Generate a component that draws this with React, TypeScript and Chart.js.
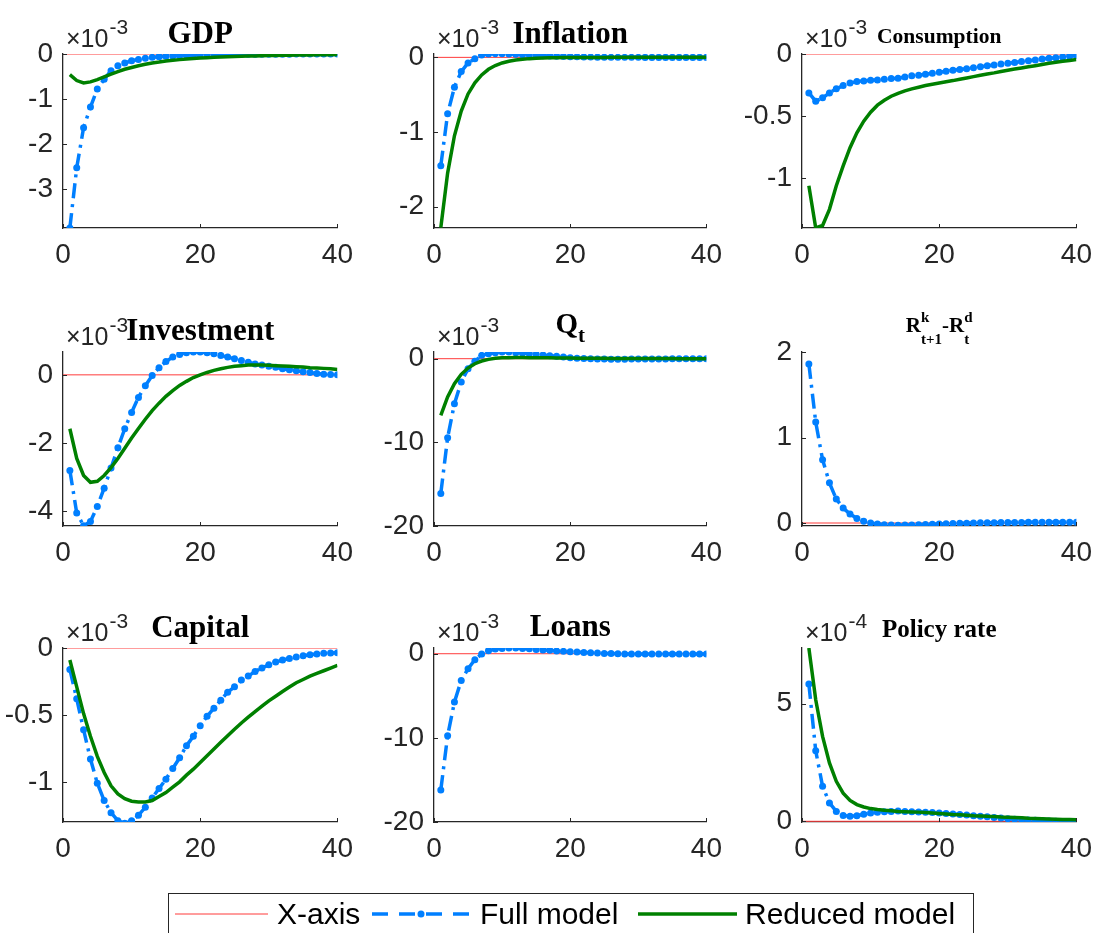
import React, { useEffect, useRef } from "react";
import { Chart, registerables } from "chart.js";

Chart.register(...registerables);

// ---------------- data ----------------
const PERIODS = [1, 2, 3, 4, 5, 6, 7, 8, 9, 10, 11, 12, 13, 14, 15, 16, 17, 18, 19, 20, 21, 22, 23, 24, 25, 26, 27, 28, 29, 30, 31, 32, 33, 34, 35, 36, 37, 38, 39, 40];
const X_TICKS = [0, 20, 40];
const ZERO_LINE_X = [0, 40];
const ZERO_LINE_Y = [0, 0];

// values in units of the axis multiplier (x10^-3 or x10^-4)
const GDP_FULL = [-3.87, -2.53, -1.64, -1.18, -0.78, -0.56, -0.37, -0.26, -0.2, -0.15, -0.12, -0.096, -0.074, -0.06, -0.052, -0.044, -0.037, -0.03, -0.025, -0.021, -0.018, -0.015, -0.013, -0.011, -0.009, -0.008, -0.007, -0.006, -0.005, -0.004, -0.004, -0.003, -0.003, -0.002, -0.002, -0.002, -0.001, -0.001, -0.001, -0.001];
const GDP_REDUCED = [-0.46, -0.59, -0.645, -0.62, -0.57, -0.51, -0.45, -0.39, -0.34, -0.3, -0.26, -0.23, -0.2, -0.18, -0.155, -0.14, -0.125, -0.11, -0.1, -0.09, -0.082, -0.074, -0.067, -0.06, -0.055, -0.05, -0.046, -0.042, -0.038, -0.035, -0.032, -0.029, -0.026, -0.024, -0.022, -0.02, -0.018, -0.016, -0.014, -0.013];

const INFL_FULL = [-1.45, -0.755, -0.4, -0.19, -0.075, -0.02, 0.03, 0.045, 0.05, 0.048, 0.044, 0.04, 0.035, 0.03, 0.025, 0.021, 0.017, 0.014, 0.011, 0.009, 0.007, 0.005, 0.004, 0.003, 0.002, 0.001, 0.001, 0, 0, 0, -0.001, -0.001, -0.001, -0.001, -0.001, -0.001, -0.001, -0.001, -0.001, -0.001];
const INFL_REDUCED = [-2.28, -1.55, -1.05, -0.72, -0.49, -0.34, -0.235, -0.16, -0.11, -0.075, -0.052, -0.036, -0.025, -0.017, -0.012, -0.008, -0.006, -0.004, -0.003, -0.002, -0.002, -0.001, -0.001, -0.001, -0.001, 0, 0, 0, 0, 0, 0, 0, 0, 0, 0, 0, 0, 0, 0, 0];

const CONS_FULL = [-0.313, -0.38, -0.353, -0.313, -0.28, -0.254, -0.233, -0.222, -0.217, -0.211, -0.209, -0.203, -0.198, -0.195, -0.185, -0.176, -0.171, -0.163, -0.155, -0.147, -0.139, -0.131, -0.125, -0.118, -0.11, -0.102, -0.095, -0.088, -0.081, -0.075, -0.068, -0.061, -0.054, -0.048, -0.041, -0.035, -0.03, -0.024, -0.018, -0.013];
const CONS_REDUCED = [-1.06, -1.4, -1.38, -1.25, -1.06, -0.9, -0.754, -0.634, -0.54, -0.468, -0.412, -0.372, -0.34, -0.316, -0.297, -0.281, -0.267, -0.254, -0.243, -0.233, -0.223, -0.214, -0.203, -0.193, -0.182, -0.171, -0.161, -0.152, -0.141, -0.131, -0.121, -0.112, -0.103, -0.094, -0.084, -0.075, -0.067, -0.059, -0.052, -0.045];

const INV_FULL = [-2.8, -4.05, -4.42, -4.3, -3.86, -3.32, -2.73, -2.14, -1.58, -1.1, -0.66, -0.32, -0.02, 0.21, 0.39, 0.52, 0.6, 0.65, 0.67, 0.67, 0.65, 0.62, 0.57, 0.52, 0.47, 0.42, 0.37, 0.32, 0.29, 0.25, 0.22, 0.18, 0.15, 0.12, 0.09, 0.07, 0.04, 0.02, 0.01, 0];
const INV_REDUCED = [-1.58, -2.45, -2.95, -3.15, -3.12, -2.95, -2.72, -2.45, -2.15, -1.85, -1.57, -1.3, -1.05, -0.83, -0.63, -0.46, -0.31, -0.19, -0.08, 0, 0.07, 0.13, 0.18, 0.22, 0.25, 0.27, 0.29, 0.29, 0.29, 0.28, 0.27, 0.26, 0.25, 0.24, 0.23, 0.21, 0.2, 0.19, 0.18, 0.16];

const QT_FULL = [-16.1, -9.44, -5.38, -2.79, -1.2, -0.32, 0.4, 0.6, 0.72, 0.8, 0.8, 0.72, 0.68, 0.6, 0.52, 0.44, 0.36, 0.28, 0.2, 0.12, 0.06, 0.02, -0.02, -0.04, -0.05, -0.06, -0.06, -0.06, -0.05, -0.05, -0.04, -0.04, -0.03, -0.03, -0.02, -0.02, -0.01, -0.01, -0.01, 0];
const QT_REDUCED = [-6.77, -4.58, -2.99, -1.87, -1.12, -0.6, -0.28, -0.08, 0.04, 0.1, 0.12, 0.13, 0.13, 0.12, 0.12, 0.11, 0.1, 0.09, 0.08, 0.07, 0.06, 0.05, 0.05, 0.04, 0.04, 0.03, 0.03, 0.02, 0.02, 0.02, 0.01, 0.01, 0.01, 0.01, 0.01, 0, 0, 0, 0, 0];

const SPREAD_FULL = [1.86, 1.18, 0.74, 0.47, 0.28, 0.175, 0.105, 0.054, 0.02, 0, -0.012, -0.02, -0.023, -0.025, -0.024, -0.022, -0.02, -0.018, -0.015, -0.012, -0.01, -0.006, -0.004, -0.002, 0, 0.002, 0.003, 0.004, 0.005, 0.006, 0.007, 0.007, 0.008, 0.008, 0.009, 0.009, 0.009, 0.01, 0.01, 0.01];

const CAP_FULL = [-0.16, -0.38, -0.61, -0.83, -1.01, -1.14, -1.23, -1.29, -1.31, -1.29, -1.25, -1.19, -1.12, -1.05, -0.98, -0.9, -0.82, -0.73, -0.66, -0.58, -0.51, -0.45, -0.39, -0.33, -0.29, -0.24, -0.21, -0.175, -0.15, -0.125, -0.105, -0.09, -0.078, -0.068, -0.058, -0.05, -0.045, -0.04, -0.038, -0.035];
const CAP_REDUCED = [-0.09, -0.29, -0.49, -0.66, -0.81, -0.93, -1.03, -1.09, -1.125, -1.145, -1.15, -1.15, -1.14, -1.11, -1.08, -1.04, -1.0, -0.95, -0.905, -0.855, -0.805, -0.755, -0.705, -0.655, -0.607, -0.56, -0.517, -0.475, -0.435, -0.395, -0.36, -0.325, -0.292, -0.26, -0.235, -0.21, -0.19, -0.17, -0.15, -0.13];

const LOANS_FULL = [-16.2, -9.74, -5.74, -3.17, -1.78, -0.71, -0.04, 0.36, 0.55, 0.63, 0.67, 0.67, 0.63, 0.59, 0.51, 0.44, 0.4, 0.32, 0.28, 0.24, 0.2, 0.16, 0.12, 0.08, 0.04, 0.02, 0, -0.02, -0.03, -0.04, -0.04, -0.04, -0.04, -0.03, -0.03, -0.03, -0.02, -0.02, -0.02, -0.02];

const POLICY_FULL = [5.84, 3.0, 1.49, 0.78, 0.42, 0.25, 0.21, 0.24, 0.3, 0.35, 0.38, 0.41, 0.42, 0.44, 0.42, 0.41, 0.4, 0.38, 0.37, 0.35, 0.33, 0.31, 0.29, 0.27, 0.24, 0.21, 0.19, 0.16, 0.14, 0.11, 0.09, 0.07, 0.05, 0.04, 0.03, 0.01, 0, -0.01, -0.02, -0.03];
const POLICY_REDUCED = [7.37, 5.17, 3.61, 2.48, 1.7, 1.2, 0.89, 0.71, 0.61, 0.54, 0.5, 0.47, 0.45, 0.42, 0.41, 0.4, 0.39, 0.37, 0.35, 0.33, 0.31, 0.29, 0.28, 0.26, 0.24, 0.23, 0.21, 0.2, 0.18, 0.17, 0.16, 0.15, 0.13, 0.12, 0.11, 0.1, 0.09, 0.08, 0.075, 0.07];

const LEGEND_LABELS = ["X-axis", "Full model", "Reduced model"];

// ---------------- styling ----------------
const SANS = '"Liberation Sans", Arial, Helvetica, sans-serif';
const SERIF = '"Liberation Serif", "Times New Roman", serif';
const AXIS_COLOR = "#262626";
const RED = "#ff3b3b";
const BLUE = "rgb(0,127,255)";
const GREEN = "rgb(0,128,0)";
const TICK_SIZE = 28;

type TitleGroup = { base: string; sup?: string; sub?: string };
type PanelSpec = {
  title: TitleGroup[];
  titleSize: number;
  scriptSize?: number;
  titleGap: number;
  exp?: string;
  yMin: number;
  yMax: number;
  yTicks: number[];
  full: number[];
  reduced?: number[];
  left: number;
  top: number;
  width: number;
  height: number;
};

const COL_LEFT = [63, 434, 802];
const COL_WIDTH = [276, 274, 276];
const ROW_TOP = [54, 352, 648];
const AX_H = 174;

const PANELS: PanelSpec[] = [
  { title: [{ base: "GDP" }], titleSize: 31, titleGap: 11, exp: "-3", yMin: -3.87, yMax: 0, yTicks: [-3, -2, -1, 0], full: GDP_FULL, reduced: GDP_REDUCED, left: COL_LEFT[0], top: ROW_TOP[0], width: COL_WIDTH[0], height: AX_H },
  { title: [{ base: "Inflation" }], titleSize: 31, titleGap: 11, exp: "-3", yMin: -2.285, yMax: 0.045, yTicks: [-2, -1, 0], full: INFL_FULL, reduced: INFL_REDUCED, left: COL_LEFT[1], top: ROW_TOP[0], width: COL_WIDTH[1], height: AX_H },
  { title: [{ base: "Consumption" }], titleSize: 21.5, titleGap: 11, exp: "-3", yMin: -1.4, yMax: 0, yTicks: [-1, -0.5, 0], full: CONS_FULL, reduced: CONS_REDUCED, left: COL_LEFT[2], top: ROW_TOP[0], width: COL_WIDTH[2], height: AX_H },
  { title: [{ base: "Investment" }], titleSize: 31, titleGap: 12, exp: "-3", yMin: -4.43, yMax: 0.67, yTicks: [-4, -2, 0], full: INV_FULL, reduced: INV_REDUCED, left: COL_LEFT[0], top: ROW_TOP[1], width: COL_WIDTH[0], height: AX_H },
  { title: [{ base: "Q", sub: "t" }], titleSize: 29, scriptSize: 21, titleGap: 19, exp: "-3", yMin: -20, yMax: 0.8, yTicks: [-20, -10, 0], full: QT_FULL, reduced: QT_REDUCED, left: COL_LEFT[1], top: ROW_TOP[1], width: COL_WIDTH[1], height: AX_H },
  { title: [{ base: "R", sup: "k", sub: "t+1" }, { base: "-R", sup: "d", sub: "t" }], titleSize: 21, scriptSize: 15, titleGap: 20, yMin: -0.035, yMax: 2, yTicks: [0, 1, 2], full: SPREAD_FULL, left: COL_LEFT[2], top: ROW_TOP[1], width: COL_WIDTH[2], height: AX_H },
  { title: [{ base: "Capital" }], titleSize: 31, titleGap: 11, exp: "-3", yMin: -1.3, yMax: 0, yTicks: [-1, -0.5, 0], full: CAP_FULL, reduced: CAP_REDUCED, left: COL_LEFT[0], top: ROW_TOP[2], width: COL_WIDTH[0], height: AX_H },
  { title: [{ base: "Loans" }], titleSize: 31, titleGap: 12, exp: "-3", yMin: -20, yMax: 0.68, yTicks: [-20, -10, 0], full: LOANS_FULL, left: COL_LEFT[1], top: ROW_TOP[2], width: COL_WIDTH[1], height: AX_H },
  { title: [{ base: "Policy rate" }], titleSize: 25, titleGap: 11, exp: "-4", yMin: -0.03, yMax: 7.37, yTicks: [0, 5], full: POLICY_FULL, reduced: POLICY_REDUCED, left: COL_LEFT[2], top: ROW_TOP[2], width: COL_WIDTH[2], height: AX_H },
];

const PAD_LEFT = 80;
const PAD_TOP = 60;
const PAD_RIGHT = 24;
const PAD_BOTTOM = 45;

const decorPlugin = {
  id: "panelDecor",
  afterDraw(chart: any, _args: any, opts: any) {
    const spec: PanelSpec = opts.spec;
    const { ctx, chartArea: a, scales } = chart;
    ctx.save();
    // inward ticks
    ctx.strokeStyle = AXIS_COLOR;
    ctx.lineWidth = 1;
    scales.x.ticks.forEach((t: any) => {
      const px = Math.round(scales.x.getPixelForValue(t.value)) + 0.5;
      ctx.beginPath();
      ctx.moveTo(px, a.bottom);
      ctx.lineTo(px, a.bottom - 4);
      ctx.stroke();
    });
    scales.y.ticks.forEach((t: any) => {
      const py = Math.round(scales.y.getPixelForValue(t.value)) + 0.5;
      ctx.beginPath();
      ctx.moveTo(a.left, py);
      ctx.lineTo(a.left + 4, py);
      ctx.stroke();
    });
    // exponent label
    if (spec.exp) {
      ctx.fillStyle = AXIS_COLOR;
      ctx.textBaseline = "alphabetic";
      ctx.textAlign = "left";
      ctx.font = `25px ${SANS}`;
      const x0 = a.left + 3;
      ctx.fillText("\u00d710", x0, a.top - 7.5);
      const w = ctx.measureText("\u00d710").width;
      ctx.font = `21px ${SANS}`;
      ctx.fillText(spec.exp, x0 + w + 1, a.top - 20);
    }
    // title
    const size = spec.titleSize;
    const ss = spec.scriptSize || Math.round(size * 0.7);
    const baseFont = `bold ${size}px ${SERIF}`;
    const scriptFont = `bold ${ss}px ${SERIF}`;
    let total = 0;
    const widths = spec.title.map((g) => {
      ctx.font = baseFont;
      const wb = ctx.measureText(g.base).width;
      ctx.font = scriptFont;
      const ws = Math.max(g.sup ? ctx.measureText(g.sup).width : 0, g.sub ? ctx.measureText(g.sub).width : 0);
      total += wb + ws;
      return [wb, ws];
    });
    const cx = (a.left + a.right) / 2;
    const baseY = a.top - spec.titleGap;
    let x = cx - total / 2;
    ctx.fillStyle = "#000";
    ctx.textAlign = "left";
    spec.title.forEach((g, i) => {
      ctx.font = baseFont;
      ctx.fillText(g.base, x, baseY);
      x += widths[i][0];
      ctx.font = scriptFont;
      if (g.sup) ctx.fillText(g.sup, x, baseY - size * 0.5);
      if (g.sub) ctx.fillText(g.sub, x, baseY + size * (spec.title.length > 1 ? 0.55 : 0.3));
      x += widths[i][1];
    });
    ctx.restore();
  },
};

function Panel({ spec }: { spec: PanelSpec }) {
  const ref = useRef<HTMLCanvasElement>(null);
  const cw = PAD_LEFT + spec.width + PAD_RIGHT;
  const ch = PAD_TOP + spec.height + PAD_BOTTOM;
  useEffect(() => {
    const datasets: any[] = [
      {
        label: LEGEND_LABELS[0],
        data: ZERO_LINE_X.map((x, i) => ({ x, y: ZERO_LINE_Y[i] })),
        borderColor: RED,
        borderWidth: 1,
        pointRadius: 0,
        order: 3,
      },
      {
        label: LEGEND_LABELS[1],
        data: PERIODS.map((x, i) => ({ x, y: spec.full[i] })),
        borderColor: BLUE,
        backgroundColor: BLUE,
        borderWidth: 3.5,
        borderDash: [15, 6, 3, 6],
        pointRadius: 3.5,
        pointBorderWidth: 0,
        pointBackgroundColor: BLUE,
        order: 2,
      },
    ];
    if (spec.reduced) {
      datasets.push({
        label: LEGEND_LABELS[2],
        data: PERIODS.map((x, i) => ({ x, y: spec.reduced![i] })),
        borderColor: GREEN,
        borderWidth: 3.5,
        pointRadius: 0,
        order: 1,
      });
    }
    const chart = new Chart(ref.current!, {
      type: "line",
      data: { datasets },
      plugins: [decorPlugin as any],
      options: {
        animation: false,
        responsive: false,
        devicePixelRatio: 1,
        layout: { padding: { top: PAD_TOP, right: PAD_RIGHT, left: 0, bottom: 0 } },
        plugins: {
          legend: { display: false },
          tooltip: { enabled: false },
          title: { display: false },
          panelDecor: { spec },
        } as any,
        elements: { line: { tension: 0 } },
        scales: {
          x: {
            type: "linear",
            min: X_TICKS[0],
            max: X_TICKS[X_TICKS.length - 1],
            afterBuildTicks: (s: any) => {
              s.ticks = X_TICKS.map((v) => ({ value: v }));
            },
            afterFit: (s: any) => {
              s.height = PAD_BOTTOM;
            },
            grid: { display: false, drawTicks: false },
            border: { display: true, color: AXIS_COLOR, width: 1.3 },
            ticks: {
              padding: 10,
              color: AXIS_COLOR,
              font: { family: SANS, size: TICK_SIZE },
              maxRotation: 0,
              callback: (v: any) => String(v),
            },
          },
          y: {
            type: "linear",
            min: spec.yMin,
            max: spec.yMax,
            afterBuildTicks: (s: any) => {
              s.ticks = spec.yTicks.map((v) => ({ value: v }));
            },
            afterFit: (s: any) => {
              s.width = PAD_LEFT;
            },
            grid: { display: false, drawTicks: false },
            border: { display: true, color: AXIS_COLOR, width: 1.3 },
            ticks: {
              padding: 10,
              color: AXIS_COLOR,
              font: { family: SANS, size: TICK_SIZE },
              callback: (v: any) => String(v),
            },
          },
        },
      } as any,
    });
    return () => chart.destroy();
  }, [spec]);
  return (
    <canvas
      ref={ref}
      width={cw}
      height={ch}
      style={{ position: "absolute", left: spec.left - PAD_LEFT, top: spec.top - PAD_TOP, width: cw, height: ch }}
    />
  );
}

function Legend() {
  const textStyle = (left: number): React.CSSProperties => ({
    position: "absolute",
    left,
    top: 899,
    fontFamily: SANS,
    fontSize: 30,
    lineHeight: "30px",
    color: "#000",
    whiteSpace: "nowrap",
  });
  return (
    <>
      <div
        style={{
          position: "absolute",
          left: 168,
          top: 893,
          width: 806,
          height: 60,
          border: `1px solid ${AXIS_COLOR}`,
          background: "#fff",
          boxSizing: "border-box",
        }}
      />
      <svg width={1094} height={933} style={{ position: "absolute", left: 0, top: 0, pointerEvents: "none" }}>
        <line x1={175} y1={914} x2={268} y2={914} stroke={RED} strokeWidth={1} />
        <line x1={372} y1={914} x2={472} y2={914} stroke={BLUE} strokeWidth={3.5} strokeDasharray="16 11" />
        <circle cx={421} cy={914} r={3.5} fill={BLUE} />
        <line x1={638} y1={914} x2={737} y2={914} stroke={GREEN} strokeWidth={3.5} />
      </svg>
      <span style={textStyle(277)}>{LEGEND_LABELS[0]}</span>
      <span style={textStyle(480)}>{LEGEND_LABELS[1]}</span>
      <span style={textStyle(745)}>{LEGEND_LABELS[2]}</span>
    </>
  );
}

export default function App() {
  return (
    <div style={{ position: "absolute", left: 0, top: 0, width: 1094, height: 933, background: "#fff", overflow: "hidden" }}>
      {PANELS.map((p, i) => (
        <Panel key={i} spec={p} />
      ))}
      <Legend />
    </div>
  );
}
